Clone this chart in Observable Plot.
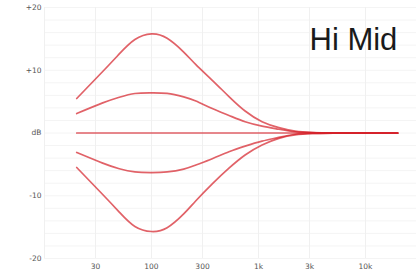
<!DOCTYPE html>
<html>
<head>
<meta charset="utf-8">
<script src="https://cdn.jsdelivr.net/npm/d3@7"></script>
<script src="https://cdn.jsdelivr.net/npm/@observablehq/plot@0.6"></script>
<style>
  html, body { margin: 0; padding: 0; background: #fff; }
  #chart { width: 419px; height: 277px; }
</style>
</head>
<body>
<div id="chart"></div>
<script>
const title = "Hi Mid";
const freqs = [20, 35, 50, 70, 100, 140, 200, 260, 370, 530, 750, 1080, 1550, 2200, 3200, 5000, 20000];
const boostHigh = [5.5, 9.8, 12.6, 14.9, 15.8, 15.1, 12.9, 10.9, 8.4, 5.8, 3.5, 1.8, 0.85, 0.3, 0.08, 0.02, 0];
const boostLow  = [3.1, 4.8, 5.7, 6.3, 6.4, 6.3, 5.75, 5.1, 3.9, 2.8, 1.8, 1.1, 0.6, 0.2, 0.06, 0.02, 0];
const flat      = [0, 0, 0, 0, 0, 0, 0, 0, 0, 0, 0, 0, 0, 0, 0, 0, 0];
const cutLow    = [-3.1, -4.8, -5.7, -6.2, -6.3, -6.2, -5.75, -5.1, -4.1, -3.0, -2.1, -1.3, -0.7, -0.2, -0.06, -0.02, 0];
const cutHigh   = [-5.5, -9.8, -12.6, -14.9, -15.7, -15.1, -12.9, -10.8, -8.1, -5.6, -3.5, -1.9, -0.85, -0.3, -0.08, -0.02, 0];

const xTicks = [30, 100, 300, 1000, 3000, 10000];
const xTickLabels = ["30", "100", "300", "1k", "3k", "10k"];
const yTicks = [20, 10, 0, -10, -20];
const yTickLabels = ["+20", "+10", "dB", "-10", "-20"];
const gridDb = [20, 18, 16, 14, 12, 10, 8, 6, 4, 2, 0, -2, -4, -6, -8, -10, -12, -14, -16, -18, -20];
const gridFreqs = [10, 30, 100, 300, 1000, 3000, 10000];

const seriesList = [
  {name: "boostHigh", values: boostHigh},
  {name: "boostLow", values: boostLow},
  {name: "flat", values: flat},
  {name: "cutLow", values: cutLow},
  {name: "cutHigh", values: cutHigh}
];
const rows = seriesList.flatMap(s => freqs.map((f, i) => ({series: s.name, f, db: s.values[i]})));

const chart = Plot.plot({
  width: 419,
  height: 277,
  marginLeft: 44,
  marginRight: 3,
  marginTop: 7,
  marginBottom: 19,
  style: {fontFamily: "DejaVu Sans", fontSize: "7.5px", color: "#555", background: "#fff"},
  x: {type: "log", domain: [10, 30000]},
  y: {domain: [-20, 20]},
  marks: [
    Plot.ruleY(gridDb, {stroke: "#f4f4f4", strokeWidth: 1}),
    Plot.ruleX(gridFreqs, {stroke: "#f0f0f0", strokeWidth: 1}),
    Plot.axisY({ticks: yTicks, tickFormat: d => yTickLabels[yTicks.indexOf(d)], tickSize: 0, tickPadding: 3, label: null, fill: "#555"}),
    Plot.axisX({ticks: xTicks, tickFormat: d => xTickLabels[xTicks.indexOf(d)], tickSize: 0, tickPadding: 5, label: null, fill: "#555"}),
    Plot.line(rows, {x: "f", y: "db", z: "series", stroke: "#d42028", strokeOpacity: 0.7, strokeWidth: 1.7, curve: "natural"}),
    Plot.text([title], {x: 3000, y: 13.2, text: d => d, textAnchor: "start", lineAnchor: "bottom", fontSize: 31, fontFamily: "Liberation Sans, Arial, sans-serif", fill: "#1a1a1a"})
  ]
});
document.getElementById("chart").appendChild(chart);
</script>
</body>
</html>
